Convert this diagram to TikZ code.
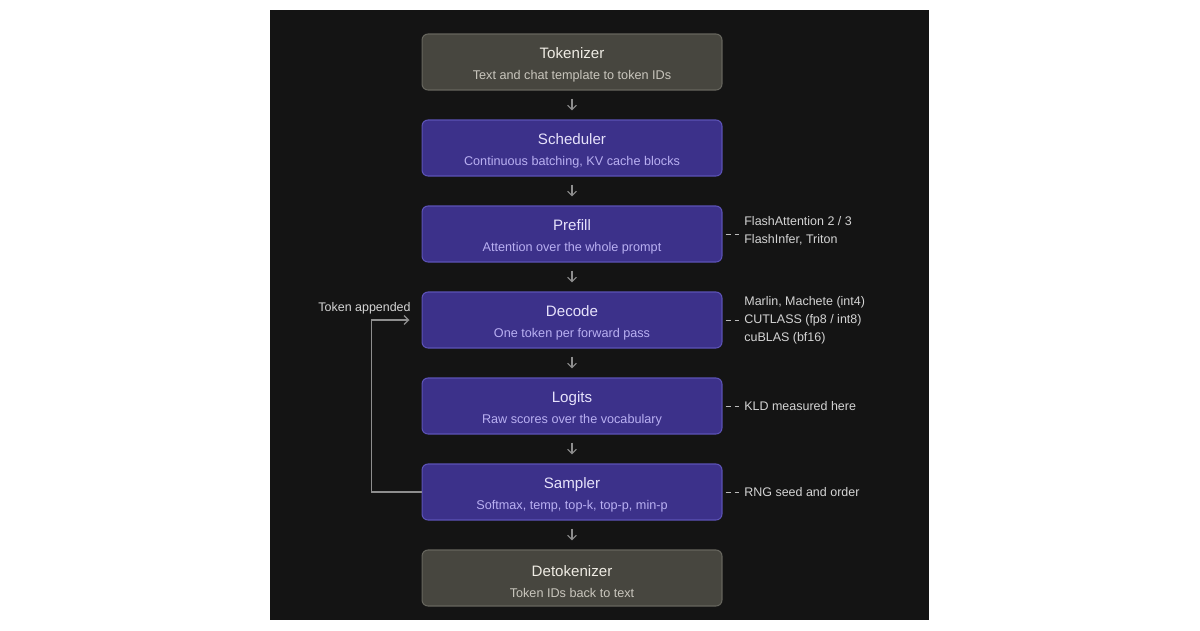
\documentclass[tikz,border=0pt]{standalone}
\usepackage{fontspec}
\setmainfont{Liberation Sans}
\usetikzlibrary{arrows.meta,calc}
\definecolor{bgdark}{HTML}{141414}
\definecolor{grayfill}{HTML}{47463F}
\definecolor{grayedge}{HTML}{66655D}
\definecolor{graytitle}{HTML}{EEEBE3}
\definecolor{graysub}{HTML}{C9C6BD}
\definecolor{purplefill}{HTML}{3C318A}
\definecolor{purpleedge}{HTML}{5C52B6}
\definecolor{purpletitle}{HTML}{E6E2FB}
\definecolor{purplesub}{HTML}{B9B0F2}
\definecolor{notegray}{HTML}{D4D4D4}
\definecolor{linegray}{HTML}{8E8E8E}
\tikzset{>={Straight Barb[length=2.6pt,width=5pt]}}
\tikzstyle{stage}=[rectangle,rounded corners=0.12cm,line width=0.6pt,minimum width=6cm,minimum height=1.12cm,align=center,inner sep=0pt,font=\fontsize{7.2}{12}\selectfont]
\tikzstyle{graystage}=[stage,draw=grayedge,fill=grayfill,text=graysub]
\tikzstyle{purplestage}=[stage,draw=purpleedge,fill=purplefill,text=purplesub]
\tikzstyle{flow}=[->,draw=linegray,line width=0.6pt,shorten <=0.16cm,shorten >=0.18cm]
\tikzstyle{note}=[anchor=west,align=left,inner sep=0pt,text=notegray,font=\fontsize{7.1}{10.2}\selectfont]
\tikzstyle{notelink}=[draw=linegray!60,line width=0.5pt,dash pattern=on 0.1cm off 0.08cm,shorten <=0.06cm,shorten >=0.1cm]
\tikzstyle{loopback}=[->,draw=linegray,line width=0.7pt,shorten >=0.24cm]

\begin{document}
\begin{tikzpicture}[x=0.02cm,y=-0.02cm]
    \fill[white] (0,0) rectangle (1200,630);
    \fill[bgdark] (270,10) rectangle (929,620);
    \useasboundingbox (0,0) rectangle (1200,630);

    \foreach \i/\name/\desc/\kind in {
        1/Tokenizer/{Text and chat template to token IDs}/gray,
        2/Scheduler/{Continuous batching, KV cache blocks}/purple,
        3/Prefill/{Attention over the whole prompt}/purple,
        4/Decode/{One token per forward pass}/purple,
        5/Logits/{Raw scores over the vocabulary}/purple,
        6/Sampler/{Softmax, temp, top-k, top-p, min-p}/purple,
        7/Detokenizer/{Token IDs back to text}/gray} {
        \node[\kind stage] (s\i) at (572, {62+86*(\i-1)})
            {\rule{0pt}{9.8pt}{\fontsize{8.6}{12}\selectfont\textcolor{\kind title}{\name}}\\\desc};
    };
    \foreach \i in {1,...,6} {
        \pgfmathtruncatemacro{\iplusone}{\i + 1};
        \draw[flow] (s\i) -- (s\iplusone);
    };

    % side notes
    \node[note] (n3) at (744,231) {FlashAttention 2 / 3\\FlashInfer, Triton};
    \node[note] (n4) at (744,320) {Marlin, Machete (int4)\\CUTLASS (fp8 / int8)\\cuBLAS (bf16)};
    \node[note] (n5) at (744,406) {KLD measured here};
    \node[note] (n6) at (744,492) {RNG seed and order};
    \foreach \i in {3,...,6} {
        \draw[notelink] (s\i.east) -- (s\i.east -| n\i.west);
    };

    % sampled token goes back to decode
    \node[note,anchor=east] (tokapp) at (411,308) {Token appended};
    \draw[loopback] (s6.west) -- ++(-50,0) |- (s4.west);
\end{tikzpicture}
\end{document}
